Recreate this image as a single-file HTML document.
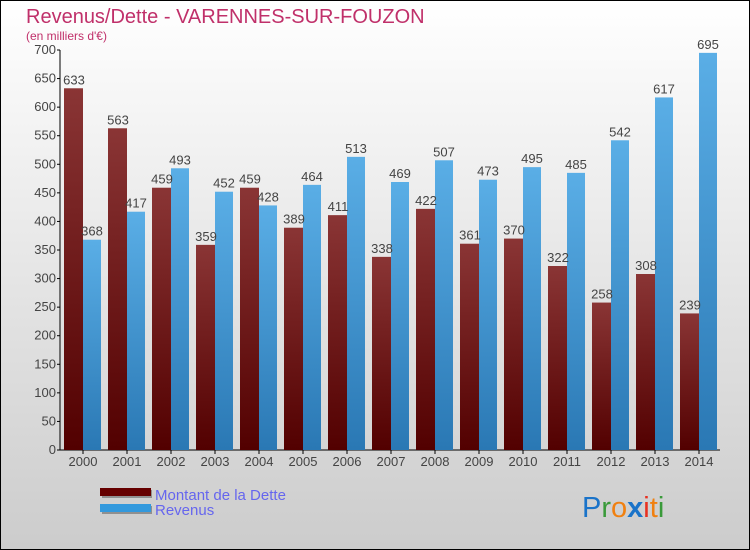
<!DOCTYPE html>
<html><head><meta charset="utf-8"><style>
body{margin:0;}
svg{display:block;font-family:"Liberation Sans",sans-serif;}
</style></head><body>
<svg id="chart" width="750" height="550">
<defs>
<linearGradient id="bg" x1="0" y1="0" x2="0" y2="1"><stop offset="0" stop-color="#ffffff"/><stop offset="1" stop-color="#cccccc"/></linearGradient>
<linearGradient id="gd" x1="0" y1="0" x2="0" y2="1"><stop offset="0" stop-color="#8a3535"/><stop offset="1" stop-color="#520000"/></linearGradient>
<linearGradient id="gr" x1="0" y1="0" x2="0" y2="1"><stop offset="0" stop-color="#5aaee6"/><stop offset="1" stop-color="#2a78b4"/></linearGradient>
</defs>
<rect x="0.5" y="0.5" width="749" height="549" fill="url(#bg)" stroke="#000"/>
<text x="26" y="23" font-size="20" fill="#c0306a">Revenus/Dette - VARENNES-SUR-FOUZON</text>
<text x="26" y="40" font-size="12" fill="#c0306a">(en milliers d'€)</text>
<g id="axes"></g>
<g id="bars"></g>
<g>
<rect x="102" y="490" width="50" height="8" fill="#666" opacity="0.6"/>
<rect x="100" y="488" width="51" height="8" fill="#660000"/>
<rect x="102" y="506" width="50" height="8" fill="#666" opacity="0.6"/>
<rect x="100" y="504" width="51" height="8" fill="#3399dd"/>
<text x="155" y="500" font-size="15" fill="#6666ee">Montant de la Dette</text>
<text x="155" y="515" font-size="15" fill="#6666ee">Revenus</text>
</g>
<g font-size="29" font-family="'Liberation Sans',sans-serif">
<text x="582" y="517"><tspan fill="#1a73c9">P</tspan><tspan fill="#3a9a3a">r</tspan><tspan fill="#f08010">o</tspan><tspan fill="#1a73c9" font-weight="bold">x</tspan><tspan fill="#e83020">i</tspan><tspan fill="#f08010">t</tspan><tspan fill="#3a9a3a">i</tspan></text>
</g>
</svg>
<script>
const years=["2000","2001","2002","2003","2004","2005","2006","2007","2008","2009","2010","2011","2012","2013","2014"];
const dette=[633,563,459,359,459,389,411,338,422,361,370,322,258,308,239];
const revenus=[368,417,493,452,428,464,513,469,507,473,495,485,542,617,695];
const yTicks=[0,50,100,150,200,250,300,350,400,450,500,550,600,650,700];
const NS="http://www.w3.org/2000/svg";
const y0=450,yTop=50,yMax=700;
function yScale(v){return y0-(v/yMax)*(y0-yTop);}
function xCenter(i){return 83+44*i;}
function mk(tag,attrs,parent){const e=document.createElementNS(NS,tag);for(const k in attrs)e.setAttribute(k,attrs[k]);parent.appendChild(e);return e;}
const axes=document.getElementById('axes'),bars=document.getElementById('bars');
yTicks.forEach(t=>{
  const y=yScale(t);
  const l=mk('line',{x1:57,x2:60,y1:y,y2:y,stroke:'#000'},axes);
  
  
  const tx=mk('text',{x:56,y:y+4,'text-anchor':'end','font-size':13,fill:'#444'},axes);
  tx.textContent=t;
  
  
});
years.forEach((yr,i)=>{
  const c=xCenter(i);
  const d=mk('rect',{x:c-19,y:yScale(dette[i]),width:19,height:y0-yScale(dette[i]),fill:'url(#gd)'},bars);
  
  
  const r=mk('rect',{x:c,y:yScale(revenus[i]),width:18,height:y0-yScale(revenus[i]),fill:'url(#gr)'},bars);
  
  
  const ld=mk('text',{x:c-9,y:yScale(dette[i])-4,'text-anchor':'middle','font-size':13,fill:'#444'},bars);
  ld.textContent=dette[i];
  
  
  const lr=mk('text',{x:c+9,y:yScale(revenus[i])-4,'text-anchor':'middle','font-size':13,fill:'#444'},bars);
  lr.textContent=revenus[i];
  
  
  const tk=mk('line',{x1:c,x2:c,y1:450,y2:454,stroke:'#000'},axes);
  
  
  const xl=mk('text',{x:c,y:466,'text-anchor':'middle','font-size':13,fill:'#444'},axes);
  xl.textContent=yr;
  
  
});
const ya=mk('line',{x1:60,x2:60,y1:50,y2:450,stroke:'#000'},axes);


const xa=mk('line',{x1:60,x2:720,y1:450,y2:450,stroke:'#000'},axes);


</script>
</body></html>
